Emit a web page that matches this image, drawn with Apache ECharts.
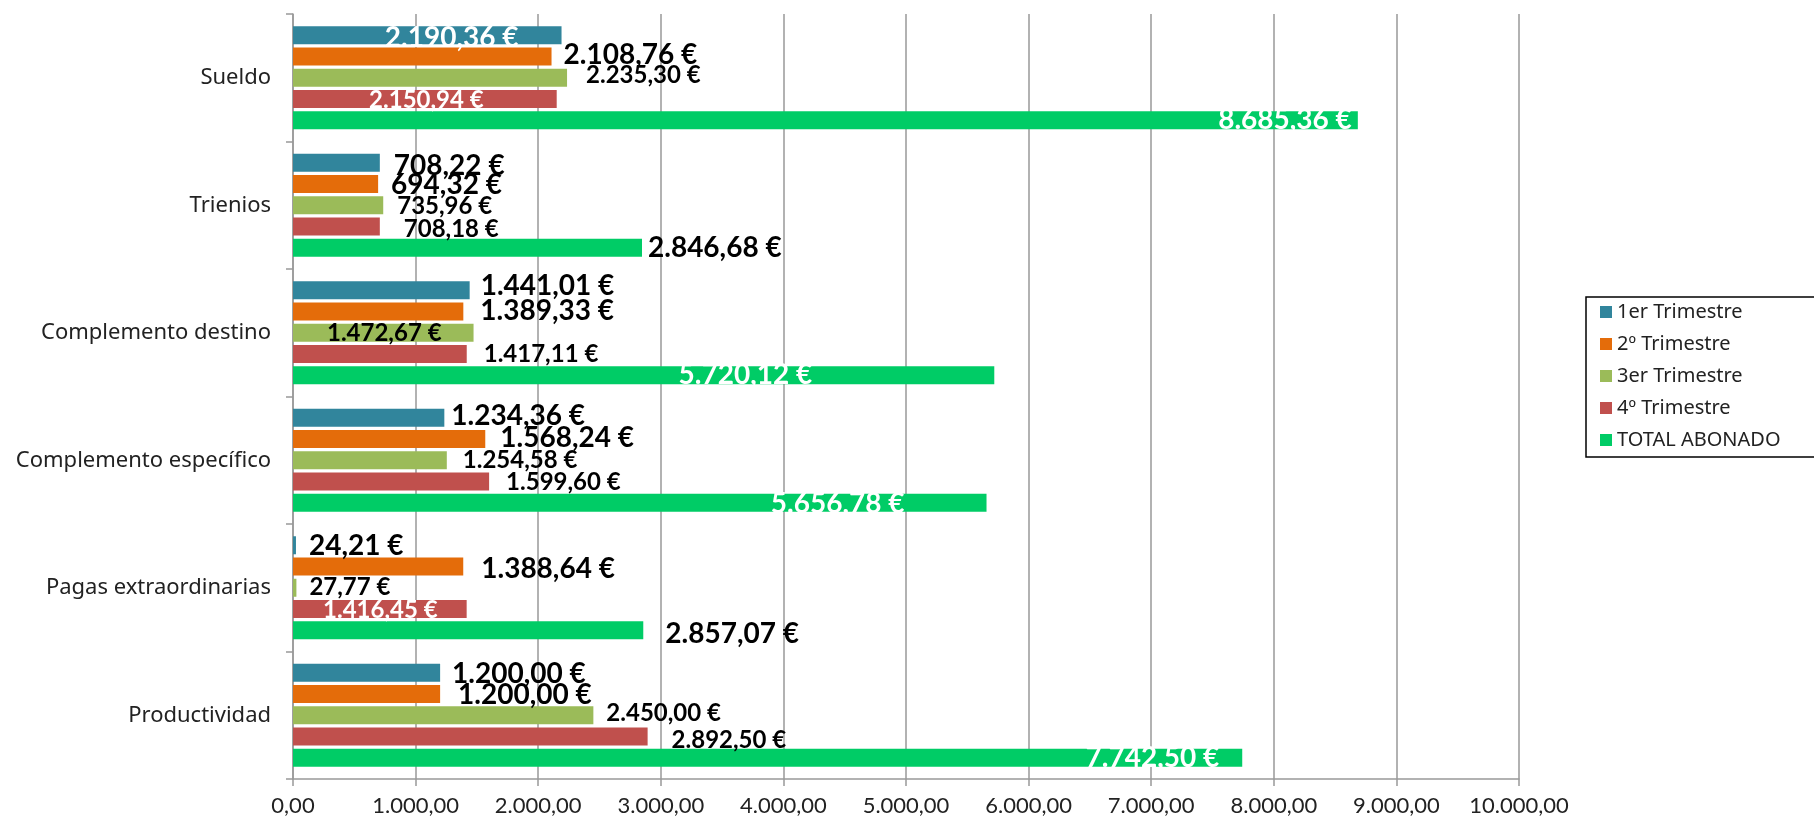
<!DOCTYPE html>
<html>
<head>
<meta charset="utf-8">
<script src="https://cdn.jsdelivr.net/npm/echarts@6/dist/echarts.min.js"></script>
<style>
html,body{margin:0;padding:0;background:#fff;}
#chart{width:1814px;height:820px;}
</style>
</head>
<body>
<div id="chart"></div>
<script>
const categories = ['Sueldo', 'Trienios', 'Complemento destino', 'Complemento específico', 'Pagas extraordinarias', 'Productividad'];
const seriesNames = ['1er Trimestre', '2º Trimestre', '3er Trimestre', '4º Trimestre', 'TOTAL ABONADO'];
const q1 = [2190.36, 708.22, 1441.01, 1234.36, 24.21, 1200.00];
const q2 = [2108.76, 694.32, 1389.33, 1568.24, 1388.64, 1200.00];
const q3 = [2235.30, 735.96, 1472.67, 1254.58, 27.77, 2450.00];
const q4 = [2150.94, 708.18, 1417.11, 1599.60, 1416.45, 2892.50];
const total = [8685.36, 2846.68, 5720.12, 5656.78, 2857.07, 7742.50];
const xTicks = [0, 1000, 2000, 3000, 4000, 5000, 6000, 7000, 8000, 9000, 10000];

// label placement: [mode ('o' = right of bar, 'i' = inside right), dx, dy, colour ('k' black, 'w' white)]
const labelPlace = [
  [['i',-43,3,'w'], ['o',14,3,'k'], ['o',11,-4,'k'], ['o',7,-2,'k'], ['o',13,1,'k'], ['o',12,1,'k']],
  [['o',12,-2,'k'], ['o',13,1,'k'], ['o',17,-1,'k'], ['o',15,-1,'k'], ['o',18,2,'k'], ['o',18,1,'k']],
  [['o',19,-2,'k'], ['o',14,1,'k'], ['i',-32,1,'k'], ['o',16,0,'k'], ['o',13,0,'k'], ['o',13,-2,'k']],
  [['i',-73,1,'w'], ['o',24,3,'k'], ['o',17,0,'k'], ['o',17,1,'k'], ['i',-29,1,'w'], ['o',24,4,'k']],
  [['i',-6,0,'w'], ['o',6,0,'k'], ['i',-182,0,'w'], ['i',-82,1,'w'], ['o',22,4,'k'], ['i',-23,0,'w']]
];
const seriesColors = ['#31859C', '#E46C0A', '#9BBB59', '#C0504D', '#00CC66'];
const labelSizes = [28, 28, 24, 24, 28];

function fmt(v, dec) {
  const s = v.toFixed(dec);
  const parts = s.split('.');
  const int = parts[0].replace(/\B(?=(\d{3})+(?!\d))/g, '.');
  return parts.length > 1 ? int + ',' + parts[1] : int;
}

const allData = [q1, q2, q3, q4, total];
const series = allData.map((arr, si) => ({
  name: seriesNames[si],
  type: 'bar',
  barWidth: 18,
  barGap: '18%',
  itemStyle: { color: seriesColors[si] },
  data: arr.map((v, ci) => {
    const p = labelPlace[si][ci];
    const white = p[3] === 'w';
    return {
      value: v,
      label: {
        show: true,
        position: p[0] === 'o' ? 'right' : 'insideRight',
        distance: 0,
        offset: [p[1], p[2]],
        color: white ? '#ffffff' : '#000000',
        fontFamily: 'Lato',
        fontWeight: 'bold',
        fontSize: labelSizes[si],
        lineHeight: labelSizes[si],
        formatter: (params) => fmt(params.value, 2) + ' €'
      }
    };
  })
}));

const chart = echarts.init(document.getElementById('chart'), null, { renderer: 'canvas' });
chart.setOption({
  animation: false,
  backgroundColor: '#ffffff',
  grid: { left: 293, top: 14, width: 1226, height: 765, containLabel: false },
  legend: {
    data: seriesNames,
    orient: 'vertical',
    left: 1586,
    top: 297,
    padding: [5, 60, 7, 14],
    itemGap: 12,
    itemWidth: 12,
    itemHeight: 12,
    icon: 'rect',
    borderColor: '#000',
    borderWidth: 1.5,
    textStyle: { fontFamily: 'Noto Sans', fontSize: 20, lineHeight: 20, color: '#222' }
  },
  xAxis: {
    type: 'value',
    min: xTicks[0],
    max: xTicks[xTicks.length - 1],
    interval: 1000,
    axisLine: { show: true, lineStyle: { color: '#999', width: 1.5 } },
    axisTick: { show: true, length: 7, lineStyle: { color: '#999', width: 1.5 } },
    splitLine: { show: true, lineStyle: { color: '#999', width: 1.5 } },
    axisLabel: {
      margin: 16,
      fontFamily: 'Lato',
      fontSize: 22,
      color: '#222',
      formatter: (v) => fmt(v, 2)
    }
  },
  yAxis: {
    type: 'category',
    inverse: true,
    data: categories,
    axisLine: { show: true, lineStyle: { color: '#999', width: 1.5 } },
    axisTick: { show: true, length: 7, lineStyle: { color: '#999', width: 1.5 } },
    axisLabel: { margin: 22, fontFamily: 'Noto Sans', fontSize: 22, color: '#222' }
  },
  series: series
});
</script>
</body>
</html>
